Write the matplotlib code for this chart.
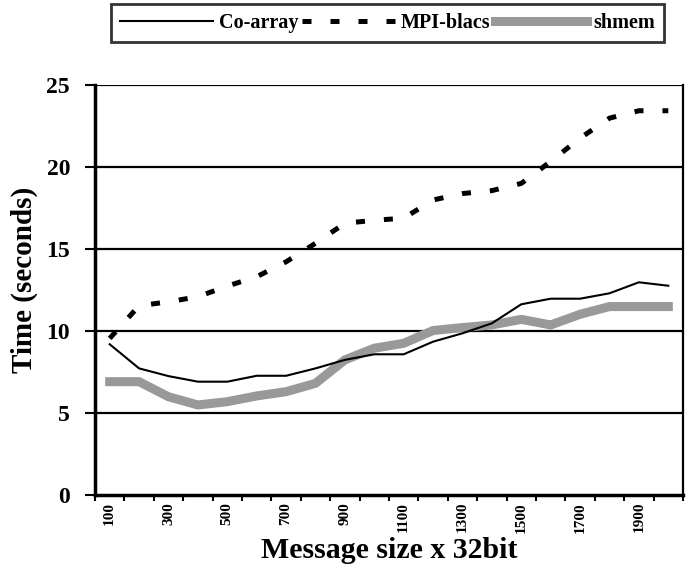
import matplotlib
matplotlib.use('Agg')
import matplotlib.pyplot as plt
import numpy as np

plt.rcParams['font.family'] = ['Liberation Serif', 'DejaVu Serif']
plt.rcParams['font.weight'] = 'bold'
plt.rcParams['axes.labelweight'] = 'bold'

# message sizes (x 32bit)
sizes = [100, 200, 300, 400, 500, 600, 700, 800, 900, 1000,
         1100, 1200, 1300, 1400, 1500, 1600, 1700, 1800, 1900, 2000]

# times in seconds
coarray = [9.19, 7.72, 7.25, 6.91, 6.91, 7.27, 7.27, 7.72, 8.24, 8.58,
           8.58, 9.35, 9.86, 10.47, 11.63, 11.97, 11.97, 12.30, 12.97, 12.76]
mpiblacs = [9.55, 11.54, 11.78, 12.09, 12.74, 13.31, 14.22, 15.35, 16.57, 16.75,
            16.88, 17.99, 18.38, 18.56, 19.00, 20.34, 21.76, 22.98, 23.43, 23.43]
shmem = [6.91, 6.91, 5.99, 5.49, 5.69, 6.04, 6.30, 6.81, 8.24, 8.95,
         9.25, 10.03, 10.21, 10.37, 10.71, 10.37, 11.02, 11.49, 11.49, 11.49]

yticks = [0, 5, 10, 15, 20, 25]

fig = plt.figure(figsize=(6.88, 5.71), dpi=100)
ax = fig.add_axes([95/688, 1-495/571, 588/688, 410/571])

x = np.arange(len(sizes))

# gridlines
for yv in yticks[1:]:
    ax.axhline(yv, color='black', lw=1.6, zorder=1)

l1, = ax.plot(x, coarray, color='black', lw=1.5, label='Co-array', zorder=3)
l2, = ax.plot(x, mpiblacs, color='black', lw=3.6, dashes=(1.8, 3.8),
              dash_capstyle='butt', label='MPI-blacs', zorder=3)
l3, = ax.plot(x, shmem, color='#999999', lw=6.5, solid_joinstyle='miter',
              label='shmem', zorder=2)

ax.set_xlim(-0.5, len(sizes) - 0.5)
ax.set_ylim(0, 25)

ax.set_yticks(yticks)
ax.tick_params(axis='y', length=7, width=1.5, pad=11, labelsize=17)

ax.set_xticks(x[::2])
ax.set_xticklabels([str(s) for s in sizes[::2]], rotation=90, fontsize=11)
ax.set_xticks(np.arange(len(sizes) + 1) - 0.5, minor=True)
ax.tick_params(axis='x', which='major', length=0, pad=5)
ax.tick_params(axis='x', which='minor', length=4, width=1.5)

for s in ['left', 'bottom']:
    ax.spines[s].set_linewidth(2.5)
ax.spines['right'].set_linewidth(1.6)
ax.spines['top'].set_visible(False)

ax.set_ylabel('Time (seconds)', fontsize=21)
ax.yaxis.set_label_coords(-0.097, 0.524)
ax.set_xlabel('Message size x 32bit', fontsize=21.5, labelpad=3)

leg = fig.legend(handles=[l1, l2, l3], loc='center',
                 bbox_to_anchor=(387.5/688, 1-23/571), ncol=3,
                 prop={'size': 14.5, 'weight': 'bold'}, frameon=True,
                 fancybox=False, edgecolor='black', handlelength=4.6,
                 handletextpad=0.3, columnspacing=0.2, borderpad=0.45,
                 borderaxespad=0)
leg.get_frame().set_linewidth(2)

fig.savefig('out.png', dpi=100)
